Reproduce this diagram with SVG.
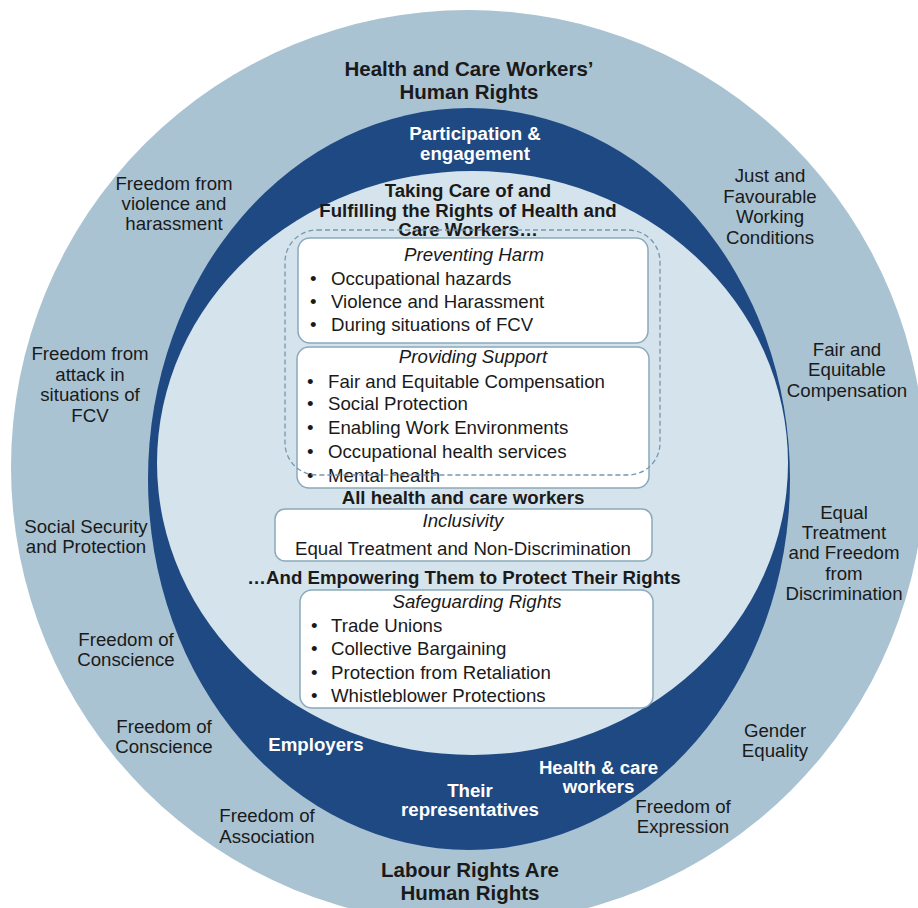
<svg xmlns="http://www.w3.org/2000/svg" width="918" height="908" viewBox="0 0 918 908">
<style>
text { font-family: "Liberation Sans", Arial, sans-serif; font-size: 18.67px; fill: #1a1a1a; }
.c { text-anchor: middle; }
.b { font-weight: bold; }
.w { fill: #ffffff; font-weight: bold; text-anchor: middle; }
.i { font-style: italic; text-anchor: middle; }
.t { font-size: 20.5px; font-weight: bold; text-anchor: middle; }
.box { fill: #ffffff; stroke: #8aa9bb; stroke-width: 1.5; }
.dash { fill: none; stroke: #7598ae; stroke-width: 1.3; stroke-dasharray: 5 3; }
</style>
<rect x="0" y="0" width="918" height="908" fill="#ffffff"/>
<g id="rings">
  <circle id="outer-ring" cx="468" cy="467" r="457" fill="#a9c3d2"/>
  <ellipse id="navy-ring" cx="469" cy="479" rx="321" ry="371" fill="#1e4982"/>
  <ellipse id="inner-area" cx="472.5" cy="463" rx="315.5" ry="292" fill="#d5e3ec"/>
</g>
<g id="outer-labels">
  <g id="title-top"><text class="t" x="469" y="75.5">Health and Care Workers’<tspan x="469" dy="23">Human Rights</tspan></text></g>
  <g id="title-bottom"><text class="t" x="470" y="877">Labour Rights Are<tspan x="470" dy="23">Human Rights</tspan></text></g>
  <g id="lbl-violence"><text class="c" x="174" y="190">Freedom from<tspan x="174" dy="20">violence and</tspan><tspan x="174" dy="20">harassment</tspan></text></g>
  <g id="lbl-working"><text class="c" x="770" y="182">Just and<tspan x="770" dy="20.6">Favourable</tspan><tspan x="770" dy="20.6">Working</tspan><tspan x="770" dy="20.6">Conditions</tspan></text></g>
  <g id="lbl-attack"><text class="c" x="90" y="360">Freedom from<tspan x="90" dy="20.6">attack in</tspan><tspan x="90" dy="20.6">situations of</tspan><tspan x="90" dy="20.6">FCV</tspan></text></g>
  <g id="lbl-compensation"><text class="c" x="847" y="355.5">Fair and<tspan x="847" dy="20.5">Equitable</tspan><tspan x="847" dy="20.5">Compensation</tspan></text></g>
  <g id="lbl-social"><text class="c" x="86" y="533">Social Security<tspan x="86" dy="19.5">and Protection</tspan></text></g>
  <g id="lbl-equal"><text class="c" x="844" y="518.5">Equal<tspan x="844" dy="20.4">Treatment</tspan><tspan x="844" dy="20.4">and Freedom</tspan><tspan x="844" dy="20.4">from</tspan><tspan x="844" dy="20.4">Discrimination</tspan></text></g>
  <g id="lbl-conscience-1"><text class="c" x="126" y="645.5">Freedom of<tspan x="126" dy="20.5">Conscience</tspan></text></g>
  <g id="lbl-conscience-2"><text class="c" x="164" y="732.5">Freedom of<tspan x="164" dy="20.5">Conscience</tspan></text></g>
  <g id="lbl-gender"><text class="c" x="775" y="736.5">Gender<tspan x="775" dy="20">Equality</tspan></text></g>
  <g id="lbl-association"><text class="c" x="267" y="822">Freedom of<tspan x="267" dy="20.5">Association</tspan></text></g>
  <g id="lbl-expression"><text class="c" x="683" y="812.5">Freedom of<tspan x="683" dy="20.5">Expression</tspan></text></g>
</g>
<g id="navy-labels">
  <g id="lbl-participation"><text class="w" x="475" y="140">Participation &amp;<tspan x="475" dy="20">engagement</tspan></text></g>
  <g id="lbl-employers"><text class="w" x="316" y="750.5">Employers</text></g>
  <g id="lbl-workers"><text class="w" x="598.5" y="773.5">Health &amp; care<tspan x="598.5" dy="19.5">workers</tspan></text></g>
  <g id="lbl-representatives"><text class="w" x="470" y="796.5">Their<tspan x="470" dy="19.5">representatives</tspan></text></g>
</g>
<g id="heading-taking-care"><text class="c b" x="468" y="196.5">Taking Care of and<tspan x="468" dy="20">Fulfilling the Rights of Health and</tspan><tspan x="468" dy="19.5">Care Workers…</tspan></text></g>
<g id="box-preventing-harm">
  <rect class="box" x="298" y="238" width="350" height="105" rx="12"/>
  <text class="i" x="474" y="260.5">Preventing Harm</text>
  <text x="310" y="284.5">•</text><text x="331" y="284.5">Occupational hazards</text>
  <text x="310" y="307.5">•</text><text x="331" y="307.5">Violence and Harassment</text>
  <text x="310" y="331">•</text><text x="331" y="331">During situations of FCV</text>
</g>
<g id="box-providing-support">
  <rect class="box" x="297" y="347" width="352" height="141" rx="12"/>
  <text class="i" x="473" y="363">Providing Support</text>
  <text x="307" y="387.5">•</text><text x="328" y="387.5">Fair and Equitable Compensation</text>
  <text x="307" y="410">•</text><text x="328" y="410">Social Protection</text>
  <text x="307" y="433.5">•</text><text x="328" y="433.5">Enabling Work Environments</text>
  <text x="307" y="457.5">•</text><text x="328" y="457.5">Occupational health services</text>
  <text x="307" y="481.5">•</text><text x="328" y="481.5">Mental health</text>
</g>
<g id="group-dashed">
  <rect class="dash" x="285" y="230" width="375" height="245" rx="32"/>
</g>
<g id="heading-all-workers"><text class="c b" x="463" y="503.5">All health and care workers</text></g>
<g id="box-inclusivity">
  <rect class="box" x="275" y="509" width="377" height="52" rx="10"/>
  <text class="i" x="463" y="526.5">Inclusivity</text>
  <text class="c" x="463" y="554.5">Equal Treatment and Non-Discrimination</text>
</g>
<g id="heading-empowering"><text class="c b" x="464" y="583.5">…And Empowering Them to Protect Their Rights</text></g>
<g id="box-safeguarding">
  <rect class="box" x="300" y="590" width="353" height="118" rx="12"/>
  <text class="i" x="477" y="608">Safeguarding Rights</text>
  <text x="311" y="631.5">•</text><text x="331" y="631.5">Trade Unions</text>
  <text x="311" y="654.5">•</text><text x="331" y="654.5">Collective Bargaining</text>
  <text x="311" y="678.5">•</text><text x="331" y="678.5">Protection from Retaliation</text>
  <text x="311" y="702">•</text><text x="331" y="702">Whistleblower Protections</text>
</g>
<g id="connectors"></g>
</svg>
